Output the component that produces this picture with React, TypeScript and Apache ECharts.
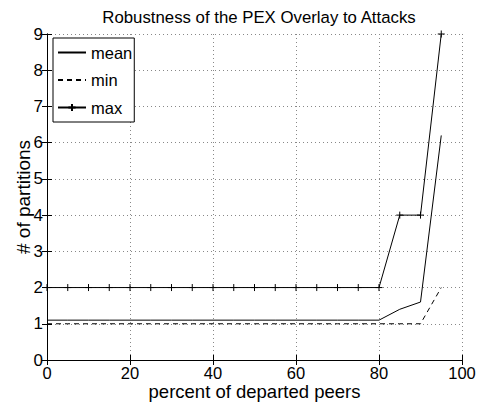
import React, { useEffect, useRef } from "react";
import * as echarts from "echarts";

const percents = [0, 5, 10, 15, 20, 25, 30, 35, 40, 45, 50, 55, 60, 65, 70, 75, 80, 85, 90, 95];
const meanValues = [1.1, 1.1, 1.1, 1.1, 1.1, 1.1, 1.1, 1.1, 1.1, 1.1, 1.1, 1.1, 1.1, 1.1, 1.1, 1.1, 1.1, 1.4, 1.6, 6.2];
const minValues = [1, 1, 1, 1, 1, 1, 1, 1, 1, 1, 1, 1, 1, 1, 1, 1, 1, 1, 1, 2];
const maxValues = [2, 2, 2, 2, 2, 2, 2, 2, 2, 2, 2, 2, 2, 2, 2, 2, 2, 4, 4, 9];
const xTicks = [0, 20, 40, 60, 80, 100];
const yTicks = [0, 1, 2, 3, 4, 5, 6, 7, 8, 9];

const FONT = "'Liberation Sans', Arial, Helvetica, sans-serif";

export default function App() {
  const ref = useRef<HTMLDivElement>(null);
  useEffect(() => {
    if (!ref.current) return;
    const chart = echarts.init(ref.current, null, { renderer: "svg" });
    const pairs = (vals: number[]) => percents.map((p, i) => [p, vals[i]]);
    const axisCommon = {
      axisLine: { show: true, lineStyle: { color: "#000", width: 1 } },
      axisTick: { show: true, inside: true, length: 5, lineStyle: { color: "#000" } },
    };
    const hiddenItem = { color: "transparent", borderColor: "transparent", borderWidth: 0 };
    chart.setOption({
      animation: false,
      backgroundColor: "#fff",
      title: {
        text: "Robustness of the PEX Overlay to Attacks",
        left: 254,
        textAlign: "center",
        top: 4,
        textStyle: { fontFamily: FONT, fontSize: 16.8, fontWeight: "normal", color: "#000" },
      },
      grid: { left: 47, right: 16, top: 34, bottom: 43, containLabel: false, outerBoundsMode: "none" },
      legend: {
        orient: "vertical",
        left: 53,
        top: 38,
        padding: [6, 2, 6, 4],
        itemGap: 10.5,
        itemWidth: 28,
        itemHeight: 9,
        backgroundColor: "#fff",
        borderColor: "#000",
        borderWidth: 1,
        borderRadius: 0,
        textStyle: { fontFamily: FONT, fontSize: 16.5, color: "#000" },
        data: [
          { name: "mean", itemStyle: hiddenItem },
          { name: "min", itemStyle: hiddenItem },
          { name: "max" },
        ],
      },
      xAxis: [
        {
          type: "value",
          min: 0,
          max: 100,
          interval: 20,
          ...axisCommon,
          axisLabel: {
            fontFamily: FONT,
            fontSize: 16.5,
            color: "#000",
            margin: 4,
            customValues: xTicks,
          },
          splitLine: { show: true, lineStyle: { color: "#888", type: [1, 3], width: 1 } },
          name: "percent of departed peers",
          nameLocation: "middle",
          nameGap: 21.5,
          nameMoveOverlap: false,
          nameTextStyle: { fontFamily: FONT, fontSize: 18.5, color: "#000" },
        },
        {
          type: "value",
          position: "top",
          min: 0,
          max: 100,
          interval: 20,
          ...axisCommon,
          axisLabel: { show: false },
          splitLine: { show: false },
        },
      ],
      yAxis: [
        {
          type: "value",
          min: 0,
          max: 9,
          interval: 1,
          ...axisCommon,
          axisLabel: {
            fontFamily: FONT,
            fontSize: 17,
            color: "#000",
            margin: 4,
            customValues: yTicks,
          },
          splitLine: { show: true, lineStyle: { color: "#888", type: [1, 3], width: 1 } },
          name: "# of partitions",
          nameLocation: "middle",
          nameGap: 14,
          nameMoveOverlap: false,
          nameTextStyle: { fontFamily: FONT, fontSize: 19, color: "#000" },
        },
        {
          type: "value",
          position: "right",
          min: 0,
          max: 9,
          interval: 1,
          ...axisCommon,
          axisLabel: { show: false },
          splitLine: { show: false },
        },
      ],
      series: [
        {
          name: "mean",
          type: "line",
          data: pairs(meanValues),
          symbol: "none",
          lineStyle: { color: "#000", width: 1, type: "solid" },
          itemStyle: { color: "#000" },
        },
        {
          name: "min",
          type: "line",
          data: pairs(minValues),
          symbol: "none",
          lineStyle: { color: "#000", width: 1, type: [5, 4] },
          itemStyle: { color: "#000" },
        },
        {
          name: "max",
          type: "line",
          data: pairs(maxValues),
          symbol: "path://M5,0L5,10M0,5L10,5",
          symbolSize: 7,
          showSymbol: true,
          lineStyle: { color: "#000", width: 1 },
          itemStyle: { color: "none", borderColor: "#000", borderWidth: 1 },
        },
      ],
    });
    return () => chart.dispose();
  }, []);
  return (
    <div
      ref={ref}
      style={{ position: "fixed", left: 0, top: 0, width: 478, height: 403, background: "#fff" }}
    />
  );
}
